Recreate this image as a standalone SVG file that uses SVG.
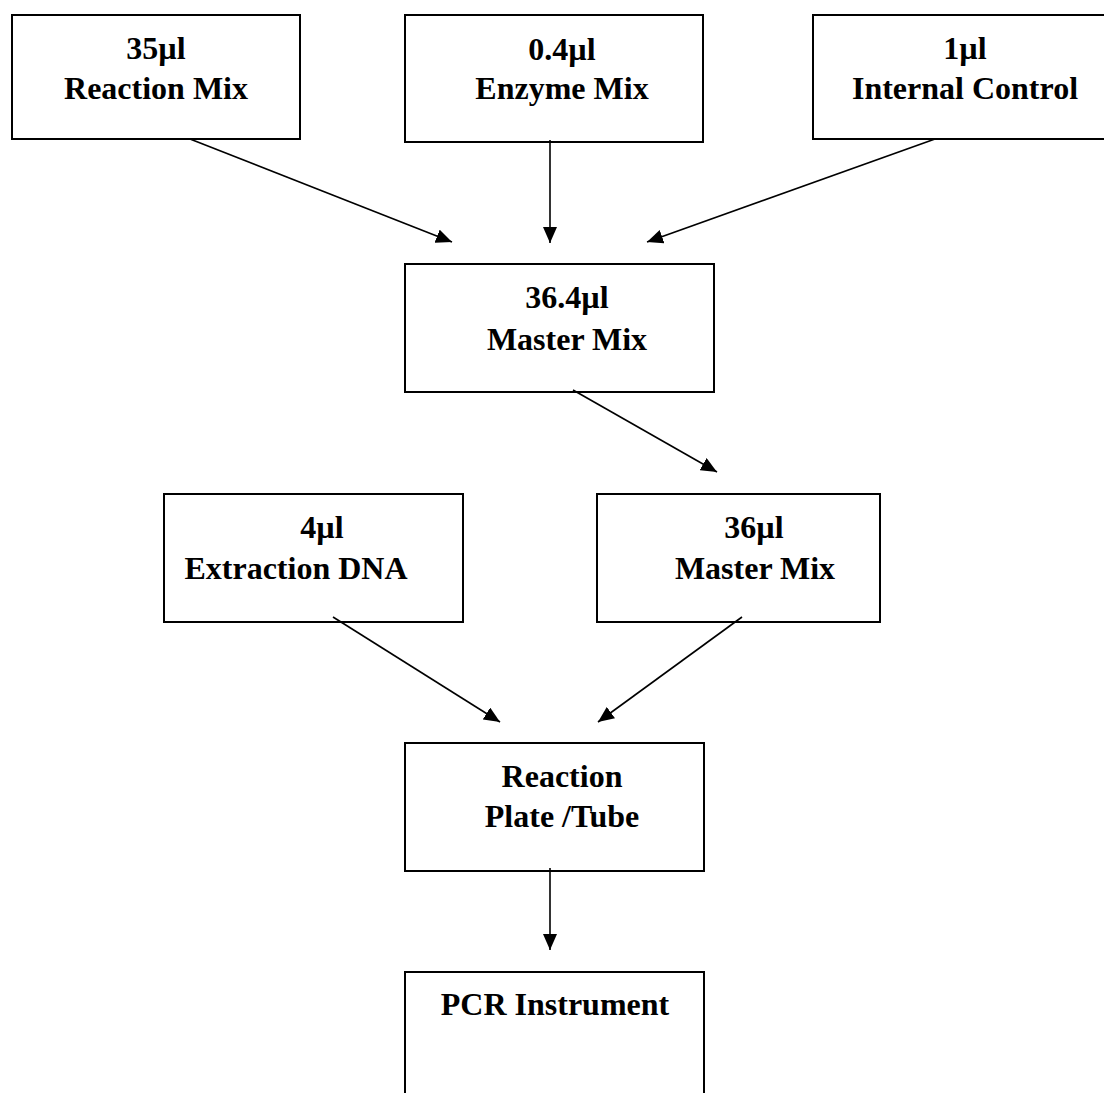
<svg xmlns="http://www.w3.org/2000/svg" width="1104" height="1093" viewBox="0 0 1104 1093">
<style>
.box{fill:#fff;stroke:#000;stroke-width:2}
.t{font-family:"Liberation Serif","Times New Roman",serif;font-weight:bold;font-size:32px;fill:#000;text-anchor:middle}
.c{stroke:#000;stroke-width:1.6;fill:none;marker-end:url(#ah)}
</style>
<defs>
<marker id="ah" viewBox="0 0 16 14" refX="16" refY="7" markerWidth="16" markerHeight="14" markerUnits="userSpaceOnUse" orient="auto">
<path d="M0,0 L16,7 L0,14 Z" fill="#000"/>
</marker>
</defs>
<rect width="1104" height="1093" fill="#fff"/>
<g id="n-reaction-mix">
<rect class="box" x="12" y="15" width="288" height="124"/>
<text class="t" x="156" y="59">35µl</text>
<text class="t" x="156" y="99">Reaction Mix</text>
</g>
<g id="n-enzyme-mix">
<rect class="box" x="405" y="15" width="298" height="127"/>
<text class="t" x="562" y="60">0.4µl</text>
<text class="t" x="562" y="99">Enzyme Mix</text>
</g>
<g id="n-internal-control">
<rect class="box" x="813" y="15" width="310" height="124"/>
<text class="t" x="965" y="59">1µl</text>
<text class="t" x="965" y="99">Internal Control</text>
</g>
<g id="n-master-mix-364">
<rect class="box" x="405" y="264" width="309" height="128"/>
<text class="t" x="567" y="308">36.4µl</text>
<text class="t" x="567" y="350">Master Mix</text>
</g>
<g id="n-extraction-dna">
<rect class="box" x="164" y="494" width="299" height="128"/>
<text class="t" x="322" y="538">4µl</text>
<text class="t" x="296" y="579">Extraction DNA</text>
</g>
<g id="n-master-mix-36">
<rect class="box" x="597" y="494" width="283" height="128"/>
<text class="t" x="754" y="538">36µl</text>
<text class="t" x="755" y="579">Master Mix</text>
</g>
<g id="n-reaction-plate">
<rect class="box" x="405" y="743" width="299" height="128"/>
<text class="t" x="562" y="787">Reaction</text>
<text class="t" x="562" y="827">Plate /Tube</text>
</g>
<g id="n-pcr">
<rect class="box" x="405" y="972" width="299" height="140"/>
<text class="t" x="555" y="1015">PCR Instrument</text>
</g>
<g id="connectors">
<line class="c" x1="190" y1="139" x2="452" y2="242"/>
<line class="c" x1="550" y1="140" x2="550" y2="243"/>
<line class="c" x1="935" y1="139" x2="647" y2="242"/>
<line class="c" x1="573" y1="390" x2="717" y2="472"/>
<line class="c" x1="333" y1="617" x2="500" y2="722"/>
<line class="c" x1="742" y1="617" x2="598" y2="722"/>
<line class="c" x1="550" y1="868" x2="550" y2="950"/>
</g>
</svg>
